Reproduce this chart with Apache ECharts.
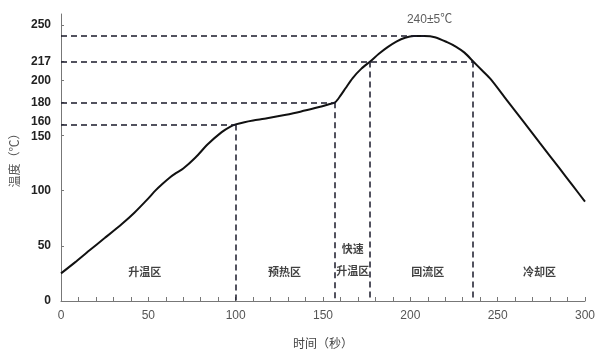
<!DOCTYPE html>
<html>
<head>
<meta charset="utf-8">
<script src="https://cdn.jsdelivr.net/npm/echarts@6/dist/echarts.min.js"></script>
<style>html,body{margin:0;padding:0;background:#fff}#c{width:608px;height:357px}</style>
</head>
<body>
<div id="c"></div>
<script>
// Reflow temperature profile (time in s, temperature in °C)
const curveTime = [0,8,16,25,35,42,50,54,58,62,66,70,77,84,92,97,100,105,110,118,128,137,146,153,157,160,163,167,172,177,182,187,192,197,202,208,214,221,226,231,236,241,246,255,265,274,285,293,300];
const curveTemp = [25,35,45.5,57,70,80,93,100,106,111.5,116,120,130,142,153,158,160,162,163.5,165.5,168.5,171.5,175,178,180,186,193,202,210.5,217,224,230,235,238.5,240,240,239,234.5,230.5,225,217,209,201,182.5,162,143.5,121,104.5,90];

const yTickValues = [0,50,100,150,160,180,200,217,250];
const xTickStep = 10;
const xLabelStep = 50;

// Guide lines: horizontal [temp, endTime], vertical [time, topTemp]
const hGuides = [[160,100],[180,157],[217,236],[240,208]];
const vGuides = [[100,160],[157,180],[177,217],[236,217]];

// Zone labels: [time, temp, text]
const zoneLabels = [[48,26,'升温区'],[128,26,'预热区'],[167,37,'快速\n升温区'],[210,26,'回流区'],[274,26,'冷却区']];
const peakNote = [[211,254.5,'240±5℃']];

const markData = [];
hGuides.forEach(g => markData.push([{coord:[0,g[0]]},{coord:[g[1],g[0]]}]));
vGuides.forEach(g => markData.push([{coord:[g[0],g[1]]},{coord:[g[0],0]}]));

const chart = echarts.init(document.getElementById('c'));
chart.setOption({
  animation: false,
  backgroundColor: '#fff',
  grid: {left: 61, right: 23, top: 14, bottom: 56},
  xAxis: {
    type: 'value', min: 0, max: 300, interval: xTickStep,
    name: '时间（秒）', nameLocation: 'middle', nameGap: 36,
    nameTextStyle: {color: '#444', fontSize: 12, fontFamily: 'Noto Sans CJK SC'},
    axisLine: {lineStyle: {color: '#777', width: 1}},
    axisTick: {inside: true, length: 4, lineStyle: {color: '#777'}},
    axisLabel: {margin: 9, color: '#555', fontSize: 12, fontFamily: 'Liberation Sans, Arial',
      formatter: v => (v % xLabelStep === 0 ? String(v) : '')},
    splitLine: {show: false}
  },
  yAxis: {
    type: 'value', min: 0, max: 260,
    name: '温度（℃）', nameLocation: 'middle', nameGap: 38, nameRotate: 90,
    nameTextStyle: {color: '#555', fontSize: 12, fontFamily: 'Noto Sans CJK SC'},
    axisLine: {show: true, lineStyle: {color: '#777', width: 1}},
    axisTick: {show: true, inside: true, length: 3, customValues: yTickValues, lineStyle: {color: '#777'}},
    axisLabel: {margin: 10, color: '#222', fontSize: 12, fontWeight: 'bold', fontFamily: 'Liberation Sans, Arial',
      customValues: yTickValues,
      formatter: v => (v === 160 ? '{up|160}' : v === 150 ? '{dn|150}' : String(v)),
      rich: {
        up: {padding: [0,0,5,0], fontSize: 12, fontWeight: 'bold', color: '#222', fontFamily: 'Liberation Sans, Arial'},
        dn: {padding: [3,0,0,0], fontSize: 12, fontWeight: 'bold', color: '#222', fontFamily: 'Liberation Sans, Arial'}
      }},
    splitLine: {show: false}
  },
  series: [
    {
      type: 'line',
      data: curveTime.map((t, i) => [t, curveTemp[i]]),
      smooth: 0.25,
      showSymbol: false,
      lineStyle: {color: '#111', width: 2},
      z: 3,
      markLine: {
        silent: true, symbol: ['none','none'],
        label: {show: false},
        lineStyle: {color: '#1a1a2a', type: [6,4], width: 1.5},
        data: markData
      }
    },
    {
      type: 'scatter', symbolSize: 0, silent: true,
      data: zoneLabels.map(d => ({value: [d[0], d[1]], name: d[2]})),
      label: {show: true, position: 'inside', formatter: p => p.name, color: '#111',
        fontSize: 11, fontWeight: 'bold', lineHeight: 22, fontFamily: 'Noto Sans CJK SC'}
    },
    {
      type: 'scatter', symbolSize: 0, silent: true,
      data: peakNote.map(d => ({value: [d[0], d[1]], name: d[2]})),
      label: {show: true, position: 'inside', formatter: p => p.name, color: '#333',
        fontSize: 12, fontFamily: 'Liberation Sans, Noto Sans CJK SC'}
    }
  ]
});
</script>
</body>
</html>
